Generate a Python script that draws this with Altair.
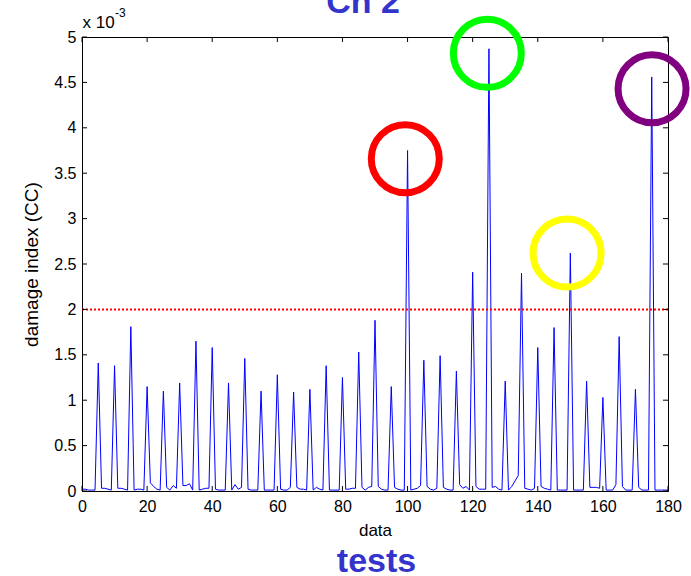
import altair as alt
import pandas as pd

# Plot area size in pixels
W, H = 586, 454
FONT = "Liberation Sans"
TITLE_BLUE = "#3434cc"

# Damage index (CC) per data sample, in units of 1e-3 (samples 0..180)
damage_index = [
    0.02, 0.02, 0.01, 0.01, 0.01,
    1.41, 0.03, 0.03, 0.02, 0.01,
    1.38, 0.03, 0.03, 0.02, 0.01,
    1.81, 0.01, 0.02, 0.02, 0.01,
    1.15, 0.09, 0.05, 0.02, 0.01,
    1.10, 0.04, 0.01, 0.06, 0.03,
    1.19, 0.06, 0.06, 0.08, 0.01,
    1.65, 0.01, 0.02, 0.03, 0.03,
    1.58, 0.02, 0.01, 0.01, 0.01,
    1.19, 0.01, 0.07, 0.02, 0.04,
    1.46, 0.02, 0.01, 0.01, 0.01,
    1.10, 0.01, 0.01, 0.01, 0.01,
    1.28, 0.02, 0.01, 0.01, 0.04,
    1.09, 0.04, 0.02, 0.02, 0.01,
    1.12, 0.01, 0.04, 0.02, 0.01,
    1.38, 0.01, 0.01, 0.01, 0.01,
    1.25, 0.02, 0.02, 0.03, 0.03,
    1.53, 0.04, 0.01, 0.04, 0.05,
    1.88, 0.05, 0.02, 0.01, 0.01,
    1.15, 0.04, 0.02, 0.01, 0.01,
    3.75, 0.01, 0.02, 0.03, 0.06,
    1.44, 0.05, 0.02, 0.01, 0.03,
    1.49, 0.04, 0.02, 0.01, 0.01,
    1.32, 0.07, 0.03, 0.05, 0.01,
    2.41, 0.05, 0.02, 0.02, 0.02,
    4.87, 0.04, 0.05, 0.02, 0.01,
    1.21, 0.01, 0.05, 0.11, 0.17,
    2.40, 0.03, 0.02, 0.01, 0.03,
    1.58, 0.05, 0.03, 0.02, 0.01,
    1.80, 0.01, 0.01, 0.01, 0.01,
    2.62, 0.01, 0.01, 0.01, 0.01,
    1.21, 0.04, 0.04, 0.04, 0.03,
    1.03, 0.01, 0.01, 0.01, 0.07,
    1.70, 0.05, 0.01, 0.01, 0.01,
    1.12, 0.04, 0.01, 0.01, 0.01,
    4.56, 0.01, 0.01, 0.01, 0.01,
    0.01,
]
samples = list(range(len(damage_index)))

# Alarm threshold (x 1e-3)
threshold = [2.0]

# Highlighted detections
ring_x = [99.3, 124.5, 149.0, 175.1]
ring_y = [3.66, 4.82, 2.62, 4.43]
ring_color = ["#ff0000", "#00ff00", "#ffff00", "#800080"]

x_ticks = list(range(0, 181, 20))
y_ticks = [0, 0.5, 1, 1.5, 2, 2.5, 3, 3.5, 4, 4.5, 5]

xs = alt.Scale(domain=[0, 180], nice=False, zero=False, padding=0)
ys = alt.Scale(domain=[0, 5], nice=False, zero=False, padding=0)

X = "data:Q"
Y = "cc:Q"

series = pd.DataFrame({"data": samples, "cc": damage_index})

line = alt.Chart(series).mark_line(color="#0000ff", strokeWidth=1).encode(
    x=alt.X(X, scale=xs,
            axis=alt.Axis(values=x_ticks, title="data", ticks=False, tickSize=0,
                          labelPadding=7, labelFontSize=16, grid=False,
                          labelFlush=False, labelOverlap=False,
                          titleFontSize=17, titleFontWeight="normal",
                          titleY=44, titleBaseline="alphabetic")),
    y=alt.Y(Y, scale=ys,
            axis=alt.Axis(values=y_ticks, title="damage index (CC)", format="~g",
                          ticks=False, tickSize=0, labelPadding=6, labelFontSize=16,
                          labelFlush=False, labelOverlap=False,
                          grid=False, titleFontSize=19, titleFontWeight="normal",
                          titleAngle=-90, titleX=-51, titleY=H / 2,
                          titleAlign="center", titleBaseline="middle")),
)

thr = alt.Chart(pd.DataFrame({"cc": threshold})).mark_rule(
    color="#ff0000", strokeWidth=2, strokeDash=[2, 2]
).encode(y=alt.Y(Y, scale=ys), x=alt.value(0), x2=alt.value(W))

# Inward ticks on all four sides
xt = pd.DataFrame({"data": x_ticks})
yt = pd.DataFrame({"cc": y_ticks})
tick_bottom = alt.Chart(xt).mark_rule(color="black", strokeWidth=1).encode(
    x=alt.X(X, scale=xs), y=alt.value(H), y2=alt.value(H - 5))
tick_top = alt.Chart(xt).mark_rule(color="black", strokeWidth=1).encode(
    x=alt.X(X, scale=xs), y=alt.value(0), y2=alt.value(5))
tick_left = alt.Chart(yt).mark_rule(color="black", strokeWidth=1).encode(
    y=alt.Y(Y, scale=ys), x=alt.value(0), x2=alt.value(5))
tick_right = alt.Chart(yt).mark_rule(color="black", strokeWidth=1).encode(
    y=alt.Y(Y, scale=ys), x=alt.value(W - 5), x2=alt.value(W))

rings = alt.Chart(pd.DataFrame({"data": ring_x, "cc": ring_y, "c": ring_color})).mark_point(
    shape="circle", filled=False, size=4624, strokeWidth=7, opacity=1, clip=False
).encode(
    x=alt.X(X, scale=xs),
    y=alt.Y(Y, scale=ys),
    color=alt.Color("c:N", scale=None),
)

# Exponent label above the y axis
exp_base = alt.Chart(pd.DataFrame({"s": ["x 10"]})).mark_text(
    font=FONT, fontSize=17, align="left", baseline="alphabetic", color="black"
).encode(text="s:N", x=alt.value(0.5), y=alt.value(-9))
exp_pow = alt.Chart(pd.DataFrame({"s": ["-3"]})).mark_text(
    font=FONT, fontSize=12, align="left", baseline="alphabetic", color="black"
).encode(text="s:N", x=alt.value(33), y=alt.value(-20))

top_title = alt.Chart(pd.DataFrame({"s": ["Ch 2"]})).mark_text(
    font=FONT, fontSize=34, fontWeight="bold", align="center",
    baseline="alphabetic", color=TITLE_BLUE
).encode(text="s:N", x=alt.value(281), y=alt.value(-24))
bottom_title = alt.Chart(pd.DataFrame({"s": ["tests"]})).mark_text(
    font=FONT, fontSize=34, fontWeight="bold", align="center",
    baseline="alphabetic", color=TITLE_BLUE
).encode(text="s:N", x=alt.value(294.5), y=alt.value(535))

chart = alt.layer(
    line, thr, tick_bottom, tick_top, tick_left, tick_right,
    rings, exp_base, exp_pow, top_title, bottom_title,
).properties(
    width=W, height=H,
    autosize=alt.AutoSizeParams(type="none"),
    padding={"left": 82, "top": 37, "right": 23, "bottom": 85},
    background="white",
).configure_view(
    stroke="black", strokeWidth=1
).configure_axis(
    domainColor="black", domainWidth=1, labelColor="black", titleColor="black",
    labelFont=FONT, titleFont=FONT,
)

chart.save("out.html", embed_options={"renderer": "svg", "actions": False})
